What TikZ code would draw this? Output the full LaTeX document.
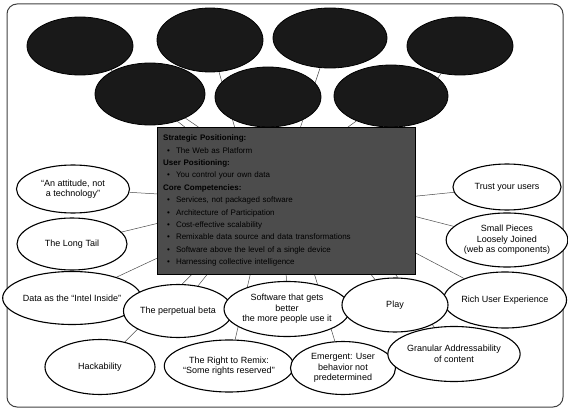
\documentclass[tikz,border=0pt]{standalone}
\usepackage{fontspec}
\setmainfont{Liberation Sans}
\usetikzlibrary{shapes.geometric, backgrounds}

\begin{document}
\begin{tikzpicture}[x=1pt, y=-1pt,
  meme/.style={ellipse, draw, line width=1.1pt, fill=white, inner sep=0pt,
    align=center, font=\fontsize{9}{10.5}\selectfont},
  darkmeme/.style={ellipse, draw, line width=0.8pt, fill=black!90, inner sep=0pt},
  link/.style={draw=black!70, line width=0.5pt}]
\useasboundingbox (0,0) rectangle (568,412);
\draw[black!75, line width=1pt, rounded corners=10pt] (7,4) rectangle (563,407);

% dark upper ellipses
\node[darkmeme, minimum width=106, minimum height=58] (upA) at (80,46) {};
\node[darkmeme, minimum width=106, minimum height=64] (upB) at (210,40) {};
\node[darkmeme, minimum width=114, minimum height=60] (upC) at (330,38) {};
\node[darkmeme, minimum width=106, minimum height=58] (upD) at (460,46) {};
\node[darkmeme, minimum width=110, minimum height=62] (upE) at (150,94) {};
\node[darkmeme, minimum width=106, minimum height=60] (upF) at (268,97) {};
\node[darkmeme, minimum width=114, minimum height=62] (upG) at (391,96) {};

% core box
\node[draw, fill=black!70, anchor=north west, minimum width=258, minimum height=147,
  text width=246, inner sep=6pt, align=left, font=\fontsize{8}{12.4}\selectfont]
  (core) at (157,127) {%
  \textbf{Strategic Positioning:}\\
  \hspace*{4pt}\textbullet\hspace{6pt}The Web as Platform\\
  \textbf{User Positioning:}\\
  \hspace*{4pt}\textbullet\hspace{6pt}You control your own data\\
  \textbf{Core Competencies:}\\
  \hspace*{4pt}\textbullet\hspace{6pt}Services, not packaged software\\
  \hspace*{4pt}\textbullet\hspace{6pt}Architecture of Participation\\
  \hspace*{4pt}\textbullet\hspace{6pt}Cost-effective scalability\\
  \hspace*{4pt}\textbullet\hspace{6pt}Remixable data source and data transformations\\
  \hspace*{4pt}\textbullet\hspace{6pt}Software above the level of a single device\\
  \hspace*{4pt}\textbullet\hspace{6pt}Harnessing collective intelligence};

% left side
\node[meme, minimum width=113, minimum height=48] (attitude) at (73,189)
  {``An attitude, not\\a technology''};
\node[meme, minimum width=110, minimum height=52] (longtail) at (72,244) {The Long Tail};
\node[meme, minimum width=110, minimum height=53] (intel) at (72,298)
  {Data as the ``Intel Inside''};

% right side
\node[meme, minimum width=108, minimum height=46] (trust) at (507,187) {Trust your users};
\node[meme, minimum width=106, minimum height=54] (pieces) at (507,240)
  {Small Pieces\\Loosely Joined\\(web as components)};
\node[meme, minimum width=112, minimum height=56] (richux) at (505,300) {Rich User Experience};

% lower middle row
\node[meme, minimum width=109, minimum height=53] (beta) at (178,311) {The perpetual beta};
\node[meme, minimum width=107, minimum height=55] (software) at (287,309)
  {Software that gets\\better\\the more people use it};
\node[meme, minimum width=106, minimum height=54] (play) at (395,305) {Play};

% bottom row
\node[meme, minimum width=110, minimum height=55] (hack) at (100,367) {Hackability};
\node[meme, minimum width=107, minimum height=52] (remix) at (229,366)
  {The Right to Remix:\\``Some rights reserved''};
\node[meme, minimum width=105, minimum height=53] (emergent) at (343,368)
  {Emergent: User\\behavior not\\predetermined};
\node[meme, minimum width=108, minimum height=55] (granular) at (454,354)
  {Granular Addressability\\of content};

\begin{pgfonlayer}{background}
  % top row into the box
  \path[link] (upA) -- (core.144.5);
  \path[link] (upE) -- (core.140.4);
  \path[link] (upB) -- (core.125.8);
  \path[link] (upF) -- (core.107.4);
  \path[link] (upC) -- (core.79.2);
  \path[link] (upG) -- (core.50.3);
  \path[link] (upD) -- (core.32.8);
  % sides
  \path[link] (core.177.6) -- (attitude);
  \path[link] (core.190.8) -- (longtail);
  \path[link] (core.204.8) -- (intel);
  \path[link] (core.2.4) -- (trust);
  \path[link] (core.-7.3) -- (pieces);
  \path[link] (core.-22.9) -- (richux);
  % bottom
  \path[link] (core.-142.6) -- (hack);
  \path[link] (core.-137.8) -- (beta);
  \path[link] (core.-116.1) -- (remix);
  \path[link] (core.-90) -- (software);
  \path[link] (core.-69.8) -- (emergent);
  \path[link] (core.-41.2) -- (play);
  \path[link] (core.-34.7) -- (granular);
\end{pgfonlayer}
\end{tikzpicture}
\end{document}
